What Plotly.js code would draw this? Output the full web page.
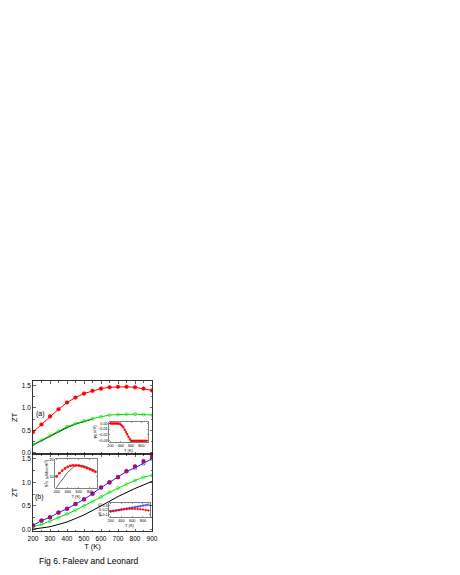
<!DOCTYPE html>
<html>
<head>
<meta charset="utf-8">
<script src="https://cdn.plot.ly/plotly-3.0.1.min.js"></script>
<style>
	body { margin: 0; background: #fff; }
	#chart { width: 460px; height: 575px; }
</style>
</head>
<body>
<div id="chart"></div>
<script>
// temperatures (K)
var tMain = [200, 250, 300, 350, 400, 450, 500, 550, 600, 650, 700, 750, 800, 850, 900];
var tBlackA = [200, 250, 300, 350, 400, 450, 500, 550];
var tBlackB = [200, 300, 400, 500, 600, 700, 800, 900];
var tInsetA = [200, 225, 250, 275, 300, 325, 350, 375, 400, 425, 450, 475, 500, 525, 550, 575,
	600, 625, 650, 675, 700, 725, 750, 775, 800, 825, 850, 875, 900];
var tInsetBLine = [200, 300, 400, 500, 550, 600, 700, 800, 900];

// panel (a) ZT
var redA = [0.46, 0.63, 0.81, 0.97, 1.12, 1.23, 1.32, 1.38, 1.43, 1.46, 1.47, 1.47, 1.46, 1.43, 1.39];
var greenA = [0.18, 0.28, 0.38, 0.48, 0.58, 0.65, 0.71, 0.76, 0.80, 0.84, 0.85, 0.86, 0.86, 0.85, 0.84];
var blackA = [0.17, 0.27, 0.37, 0.47, 0.56, 0.64, 0.70, 0.75];

// panel (b) ZT
var redB = [0.09, 0.19, 0.26, 0.36, 0.44, 0.54, 0.64, 0.76, 0.89, 1.00, 1.11, 1.24, 1.34, 1.45, 1.55];
var blueB = [0.09, 0.19, 0.26, 0.36, 0.44, 0.54, 0.64, 0.76, 0.89, 1.00, 1.11, 1.23, 1.31, 1.40, 1.50];
var greenB = [0.06, 0.11, 0.18, 0.25, 0.33, 0.41, 0.50, 0.59, 0.69, 0.79, 0.88, 0.96, 1.04, 1.11, 1.15];
var blackB = [0.01, 0.06, 0.16, 0.31, 0.50, 0.70, 0.87, 1.02];

// inset in (a): barrier height
var phiA = [-0.0005, -0.0005, -0.0005, -0.0005, -0.0005, -0.0005, -0.0005, -0.001, -0.0025, -0.0045,
	-0.007, -0.011, -0.015, -0.019, -0.023, -0.027, -0.030, -0.030, -0.030, -0.030, -0.030, -0.030,
	-0.030, -0.030, -0.030, -0.030, -0.030, -0.030, -0.030];

// upper inset in (b): power factor
var pfRed = [10, 12, 13.5, 14.8, 15.8, 16.4, 16.7, 16.7, 16.5, 16.1, 15.6, 15.0, 14.3, 13.6, 12.8];
var pfBlack = [3.5, 8, 12.5, 15.5, 16.5, 16.8, 16.3, 15.0, 13.5];

// lower inset in (b): barrier height
var phiRedB = [0.17, 0.18, 0.19, 0.20, 0.21, 0.215, 0.22, 0.225, 0.225, 0.225, 0.22, 0.215, 0.21, 0.20, 0.19];
var phiBlueB = [0.17, 0.18, 0.19, 0.20, 0.21, 0.22, 0.23, 0.24, 0.25, 0.26, 0.27, 0.28, 0.295, 0.305, 0.315];

var FONT = 'Liberation Sans, Arial, sans-serif';
var W = 460, H = 575;
function px(x) { return x / W; }
function py(y) { return 1 - y / H; }

var RED = '#ff0000', GREEN = '#00e000', BLUE = '#2020ff';

function line(x, y, xa, ya, color, width) {
	return { x: x, y: y, xaxis: xa, yaxis: ya, type: 'scatter', mode: 'lines',
		line: { color: color, width: width || 1 }, hoverinfo: 'skip' };
}
function marks(x, y, xa, ya, color, symbol, size, lw) {
	return { x: x, y: y, xaxis: xa, yaxis: ya, type: 'scatter', mode: 'lines+markers',
		line: { color: color, width: lw || 1 },
		marker: { symbol: symbol, size: size, color: color, line: { color: color, width: 0.6 } },
		hoverinfo: 'skip' };
}

var data = [
	// panel (a)
	line(tBlackA, blackA, 'x2', 'y2', '#000', 1),
	marks(tMain, greenA, 'x2', 'y2', GREEN, 'circle-open', 3),
	marks(tMain, redA, 'x2', 'y2', RED, 'circle', 3.6),
	// panel (b)
	line(tBlackB, blackB, 'x', 'y', '#000', 1),
	marks(tMain, greenB, 'x', 'y', GREEN, 'circle-open', 3),
	marks(tMain, blueB, 'x', 'y', BLUE, 'square-open', 3),
	{ x: tMain, y: redB, xaxis: 'x', yaxis: 'y', type: 'scatter', mode: 'markers',
		marker: { symbol: 'circle', size: 3.6, color: '#e0002a', line: { color: '#8000a0', width: 0.6 } },
		hoverinfo: 'skip' },
	// inset (a)
	marks(tInsetA, phiA, 'x3', 'y3', RED, 'square', 1.5, 0.6),
	// inset (b) upper
	line(tInsetBLine, pfBlack, 'x4', 'y4', '#000', 0.6),
	marks(tMain, pfRed, 'x4', 'y4', RED, 'square', 1.8, 0.6),
	// inset (b) lower
	marks(tMain, phiBlueB, 'x5', 'y5', BLUE, 'square-open', 1.5, 0.6),
	marks(tMain, phiRedB, 'x5', 'y5', RED, 'circle', 1.6, 0.6)
];

var tickFont = { family: FONT, size: 6.5, color: '#000' };
var insetFont = { family: FONT, size: 3.8, color: '#000' };
var insetTitle = { family: FONT, size: 4, color: '#000' };

function frame(extra) {
	var ax = {
		showline: true, linecolor: '#000', linewidth: 0.8, mirror: 'ticks',
		ticks: 'inside', ticklen: 2.5, tickwidth: 0.6, tickcolor: '#000',
		showgrid: false, zeroline: false, fixedrange: true, tickfont: tickFont
	};
	for (var k in extra) ax[k] = extra[k];
	return ax;
}
function insetAxis(extra) {
	return frame(Object.assign({ ticklen: 1.2, tickwidth: 0.4, linewidth: 0.5, tickfont: insetFont,
		ticklabelstandoff: 0, tickangle: 0 }, extra));
}

var mainX = [px(33), px(152)];
var layout = {
	width: W, height: H,
	margin: { l: 0, r: 0, t: 0, b: 0 },
	paper_bgcolor: '#fff', plot_bgcolor: 'rgba(0,0,0,0)',
	showlegend: false,
	font: { family: FONT, color: '#000' },
	xaxis: frame({ domain: mainX, anchor: 'y', range: [200, 900], dtick: 100, ticklabelstandoff: 1,
		minor: { ticks: 'inside', dtick: 50, ticklen: 1.5, tickcolor: '#000' },
		title: { text: 'T (K)', font: { family: FONT, size: 7.5, color: '#000' }, standoff: 3 } }),
	yaxis: frame({ domain: [py(531), py(454)], anchor: 'x', range: [-0.03, 1.6], dtick: 0.5, tickformat: '.1f',
		minor: { ticks: 'inside', dtick: 0.25, ticklen: 1.5, tickcolor: '#000' },
		title: { text: 'ZT', font: { family: FONT, size: 7.5, color: '#000' }, standoff: 3 } }),
	xaxis2: frame({ domain: mainX, anchor: 'y2', range: [200, 900], dtick: 100, showticklabels: false,
		minor: { ticks: 'inside', dtick: 50, ticklen: 1.5, tickcolor: '#000' } }),
	yaxis2: frame({ domain: [py(454), py(381)], anchor: 'x2', range: [-0.03, 1.6], dtick: 0.5, tickformat: '.1f',
		minor: { ticks: 'inside', dtick: 0.25, ticklen: 1.5, tickcolor: '#000' },
		title: { text: 'ZT', font: { family: FONT, size: 7.5, color: '#000' }, standoff: 3 } }),
	xaxis3: insetAxis({ domain: [px(109), px(148)], anchor: 'y3', range: [170, 930], dtick: 200,
		title: { text: 'T (K)', font: insetTitle, standoff: 0 } }),
	yaxis3: insetAxis({ domain: [py(442), py(422)], anchor: 'x3', range: [-0.032, 0.002], dtick: 0.01, tickformat: '.2f',
		title: { text: 'φ<sub>B</sub> (eV)', font: insetTitle, standoff: 0 } }),
	xaxis4: insetAxis({ domain: [px(55), px(97)], anchor: 'y4', range: [170, 930], dtick: 200,
		title: { text: 'T (K)', font: insetTitle, standoff: 0 } }),
	yaxis4: insetAxis({ domain: [py(488), py(459)], anchor: 'x4', range: [3, 20.5], dtick: 10,
		title: { text: 'S<sup>2</sup>σ (μW/cmK<sup>2</sup>)', font: insetTitle, standoff: 0 } }),
	xaxis5: insetAxis({ domain: [px(109), px(150)], anchor: 'y5', range: [170, 930], dtick: 200,
		title: { text: 'T (K)', font: insetTitle, standoff: 0 } }),
	yaxis5: insetAxis({ domain: [py(517), py(503)], anchor: 'x5', range: [0.05, 0.35], dtick: 0.1, tickformat: '.1f',
		title: { text: 'φ<sub>B</sub> (eV)', font: insetTitle, standoff: 0 } }),
	annotations: [
		{ text: '(a)', x: px(40), y: py(414), xref: 'paper', yref: 'paper', showarrow: false,
			xanchor: 'center', yanchor: 'middle', font: { family: FONT, size: 7, color: '#000' } },
		{ text: '(b)', x: px(39), y: py(497), xref: 'paper', yref: 'paper', showarrow: false,
			xanchor: 'center', yanchor: 'middle', font: { family: FONT, size: 7, color: '#000' } },
		{ text: 'Fig 6. Faleev and Leonard', x: px(89), y: py(561), xref: 'paper', yref: 'paper', showarrow: false,
			xanchor: 'center', yanchor: 'middle', font: { family: FONT, size: 8.5, color: '#000' } }
	]
};

Plotly.newPlot('chart', data, layout, { staticPlot: true, displayModeBar: false });
</script>
</body>
</html>
